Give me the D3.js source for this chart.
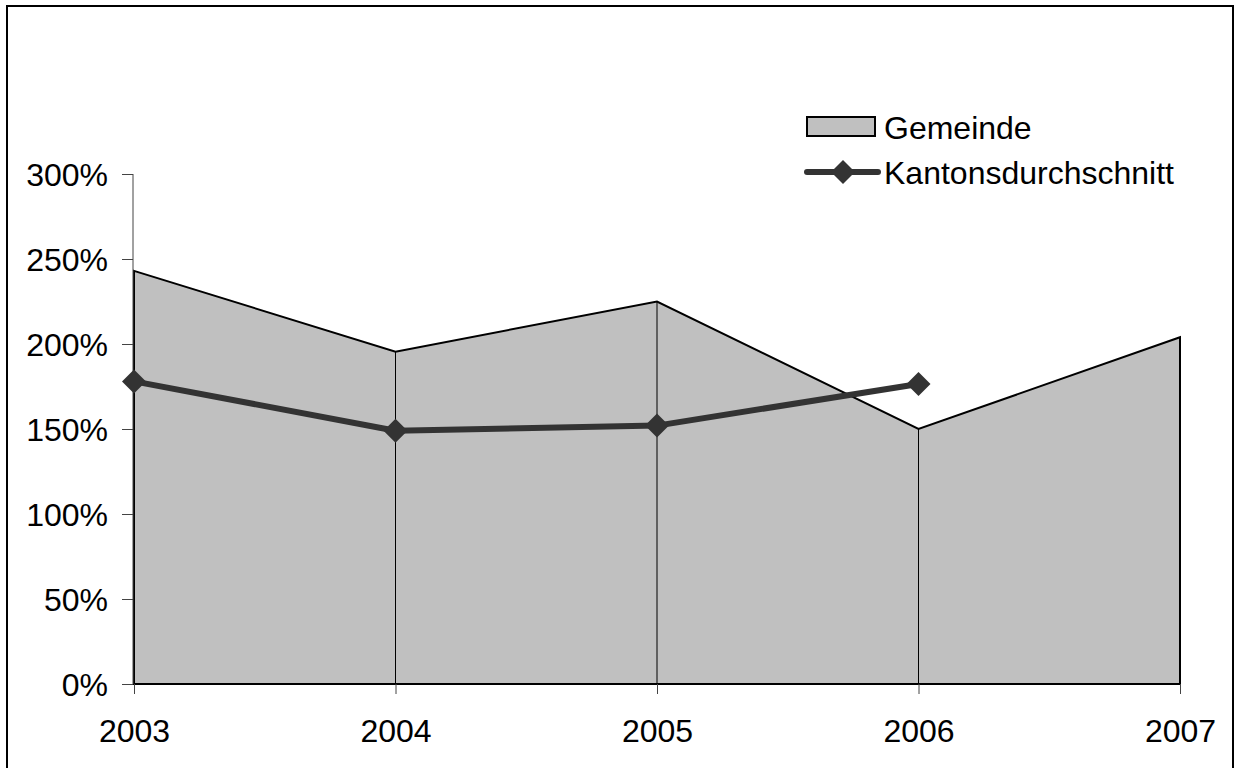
<!DOCTYPE html>
<html><head><meta charset="utf-8">
<script src="https://cdn.jsdelivr.net/npm/d3@7"></script>
<style>html,body{margin:0;padding:0;background:#fff;overflow:hidden}</style>
</head><body>
<svg id="c" width="1235" height="768"></svg>
<script>
const years = ["2003","2004","2005","2006","2007"];
const gemeinde = [2.43, 1.955, 2.25, 1.50, 2.04];
const kanton = [1.78, 1.49, 1.52, 1.765, null];
const yTicks = [0, 0.5, 1, 1.5, 2, 2.5, 3];
const seriesNames = ["Gemeinde", "Kantonsdurchschnitt"];

const svg = d3.select("#c");
const font = "'Liberation Sans', Arial, sans-serif";
const fs = 32;

svg.append("rect").attr("x",7).attr("y",6).attr("width",1226).attr("height",800)
  .attr("fill","#fff").attr("stroke","#000").attr("stroke-width",2);

const x = d3.scalePoint().domain(years).range([134,1180]).padding(0);
const y = d3.scaleLinear().domain([0,3]).range([684,174]);

// area
const area = d3.area().x((d,i)=>x(years[i])).y0(y(0)).y1(d=>y(d));
svg.append("path").datum(gemeinde).attr("d",area)
  .attr("fill","#c0c0c0").attr("stroke","#000").attr("stroke-width",2).attr("stroke-linejoin","miter");
// drop lines
svg.selectAll(".drop").data(gemeinde.slice(1,-1)).enter().append("line")
  .attr("x1",(d,i)=>x(years[i+1])).attr("x2",(d,i)=>x(years[i+1]))
  .attr("y1",d=>y(d)).attr("y2",y(0)).attr("stroke","#000").attr("stroke-width",1);

// y axis
const yAxis = d3.axisLeft(y).tickValues(yTicks).tickFormat(d=>Math.round(d*100)+"%").tickSize(11).tickPadding(14);
const gy = svg.append("g").attr("transform","translate(133,0)").call(yAxis);
gy.select(".domain").attr("stroke","#444").attr("stroke-width",1).attr("d","M0,174V684");
gy.selectAll(".tick line").attr("stroke","#444");
gy.selectAll("text").attr("font-family",font).attr("font-size",fs).attr("fill","#000").attr("dy","0.36em");

// x axis
const xAxis = d3.axisBottom(x).tickSize(10).tickPadding(25);
const gx = svg.append("g").attr("transform","translate(0,684)").call(xAxis);
gx.select(".domain").remove();
gx.selectAll(".tick line").attr("stroke","#444");
gx.selectAll("text").attr("font-family",font).attr("font-size",fs).attr("fill","#000").attr("dy","0.71em");

// kanton line
const kData = kanton.map((v,i)=>({k:years[i],v})).filter(d=>d.v!==null);
const line = d3.line().x(d=>x(d.k)).y(d=>y(d.v));
svg.append("path").datum(kData).attr("d",line).attr("fill","none")
  .attr("stroke","#333").attr("stroke-width",6).attr("stroke-linejoin","round");
const diamond = "M0,-12L12,0L0,12L-12,0Z";
svg.selectAll(".mk").data(kData).enter().append("path")
  .attr("d",diamond).attr("transform",d=>`translate(${x(d.k)},${y(d.v)})`).attr("fill","#333");

// legend
const lg = svg.append("g");
lg.append("rect").attr("x",807).attr("y",117).attr("width",68).attr("height",19)
  .attr("fill","#c0c0c0").attr("stroke","#000").attr("stroke-width",2);
lg.append("line").attr("x1",807).attr("x2",878).attr("y1",172).attr("y2",172)
  .attr("stroke","#333").attr("stroke-width",6).attr("stroke-linecap","round");
lg.append("path").attr("d",diamond).attr("transform","translate(843,172)").attr("fill","#333");
lg.selectAll("text").data(seriesNames).enter().append("text")
  .attr("x",884).attr("y",(d,i)=>139+i*45)
  .attr("font-family",font).attr("font-size",fs).attr("fill","#000").text(d=>d);
</script>
</body></html>
